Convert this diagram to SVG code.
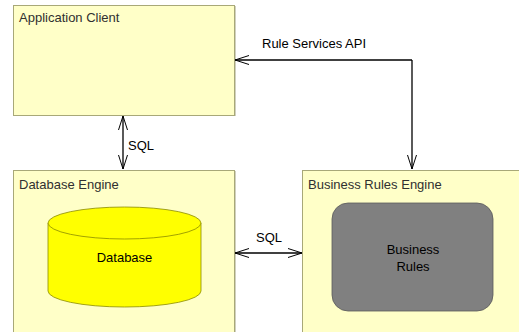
<svg xmlns="http://www.w3.org/2000/svg" width="519" height="332" viewBox="0 0 519 332">
  <style>
    .box { fill: #ffffc8; stroke: #a8a878; stroke-width: 1; }
    .title { font-family: "Liberation Sans", Arial, sans-serif; font-size: 13px; fill: #303030; }
    .lbl { font-family: "Liberation Sans", Arial, sans-serif; font-size: 13px; fill: #000; }
    .conn { fill: none; stroke: #000; stroke-width: 1.3; }
  </style>
  <defs>
    <marker id="open" viewBox="0 0 14 10" refX="14" refY="5" markerWidth="14" markerHeight="10" markerUnits="userSpaceOnUse" orient="auto-start-reverse">
      <path d="M0,0.5 L14,5 L0,9.5" fill="none" stroke="#000" stroke-width="1"/>
    </marker>
  </defs>
  <rect width="519" height="332" fill="#ffffff"/>

  <g id="application-client">
    <rect class="box" x="13.5" y="5.5" width="221" height="110"/>
    <line x1="235.5" y1="6" x2="235.5" y2="116" stroke="#d0d0c0"/>
    <text class="title" x="19" y="22">Application Client</text>
  </g>

  <g id="database-engine">
    <rect class="box" x="13.5" y="170.5" width="221" height="170"/>
    <line x1="235.5" y1="171" x2="235.5" y2="332" stroke="#d0d0c0"/>
    <text class="title" x="19" y="189">Database Engine</text>
    <g id="database">
      <path d="M48,223 L48,291 A76.5,16 0 0 0 201,291 L201,223 Z" fill="#ffff00" stroke="#8a8a00" stroke-width="0.8"/>
      <ellipse cx="124.5" cy="223" rx="76.5" ry="16" fill="#ffff00" stroke="#8a8a00" stroke-width="0.8"/>
      <text class="lbl" x="124.5" y="262" text-anchor="middle" fill="#222">Database</text>
    </g>
  </g>

  <g id="business-rules-engine">
    <rect class="box" x="302.5" y="170.5" width="230" height="170"/>
    <text class="title" x="308" y="189">Business Rules Engine</text>
    <g id="business-rules">
      <rect x="332" y="203" width="161" height="108" rx="16" ry="16" fill="#808080" stroke="#5a5a5a" stroke-width="0.8"/>
      <text class="lbl" x="413" y="254" text-anchor="middle" fill="#e4e4e4">Business</text>
      <text class="lbl" x="413" y="271" text-anchor="middle" fill="#e4e4e4">Rules</text>
    </g>
  </g>

  <g id="connectors">
    <path class="conn" d="M412,60 L235,60" marker-end="url(#open)"/>
    <path class="conn" d="M412,60 L412,169" marker-end="url(#open)"/>
    <text class="lbl" x="262" y="48">Rule Services API</text>

    <path class="conn" d="M123,116 L123,169" marker-start="url(#open)" marker-end="url(#open)"/>
    <text class="lbl" x="128" y="150">SQL</text>

    <path class="conn" d="M235,253 L302,253" marker-start="url(#open)" marker-end="url(#open)"/>
    <text class="lbl" x="269" y="242" text-anchor="middle">SQL</text>
  </g>
</svg>
